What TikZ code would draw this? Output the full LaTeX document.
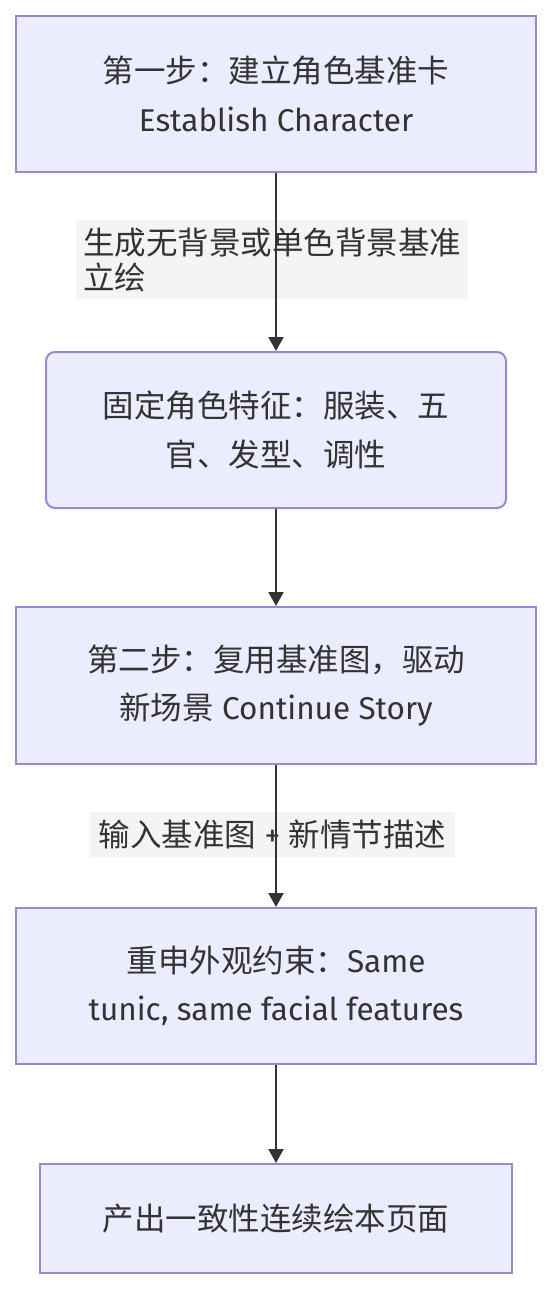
\documentclass[tikz,border=0pt]{standalone}
\usepackage{fontspec}
\setmainfont{Fira Sans}
\newfontfamily\cjk{Noto Sans CJK SC}
\usetikzlibrary{arrows.meta}
\definecolor{boxfill}{HTML}{ECECFF}
\definecolor{boxline}{HTML}{9A87D0}
\definecolor{lblfill}{HTML}{F4F4F4}
\definecolor{txt}{HTML}{333333}
\tikzset{
  stepbox/.style={draw=boxline, fill=boxfill, line width=2pt, inner sep=0pt,
    align=center, text=txt, font=\fontsize{31.5}{48.5}\selectfont},
  roundbox/.style={stepbox, rounded corners=9pt},
  edgelbl/.style={fill=lblfill, inner sep=0pt, text=txt,
    font=\fontsize{31.5}{35}\selectfont},
  arr/.style={draw=txt, line width=2pt, -{Triangle[width=15pt,length=14pt]}}
}
\begin{document}
\begin{tikzpicture}[x=1pt,y=-1pt]
\useasboundingbox (0,0) rectangle (552,1289);
\fill[white] (0,0) rectangle (552,1289);

\node[stepbox, minimum width=520pt, minimum height=156pt] (b1) at (276,94)
  {{\cjk 第一步：建立角色基准卡}\\Establish Character};
\node[roundbox, minimum width=460pt, minimum height=156pt] (b2) at (276,430)
  {{\cjk 固定角色特征：服装、五}\\{\cjk 官、发型、调性}};
\node[stepbox, minimum width=520pt, minimum height=157pt] (b3) at (276,685.5)
  {{\cjk 第二步：复用基准图，驱动}\\{\cjk 新场景} Continue Story};
\node[stepbox, minimum width=520pt, minimum height=156pt] (b4) at (276,986)
  {{\cjk 重申外观约束：}Same\\tunic, same facial features};
\node[stepbox, minimum width=472pt, minimum height=109pt] (b5) at (276,1218.5)
  {{\cjk 产出一致性连续绘本页面}};

\node[edgelbl, align=left, minimum width=392pt, minimum height=79pt] (l1) at (272,259.5)
  {{\cjk 生成无背景或单色背景基准}\\{\cjk 立绘}};
\node[edgelbl, minimum width=365pt, minimum height=45pt] (l2) at (272.5,834.5)
  {{\cjk 输入基准图} + {\cjk 新情节描述}};

\draw[arr] (b1) -- (b2);
\draw[arr] (b2) -- (b3);
\draw[arr] (b3) -- (b4);
\draw[arr] (b4) -- (b5);
\end{tikzpicture}
\end{document}
